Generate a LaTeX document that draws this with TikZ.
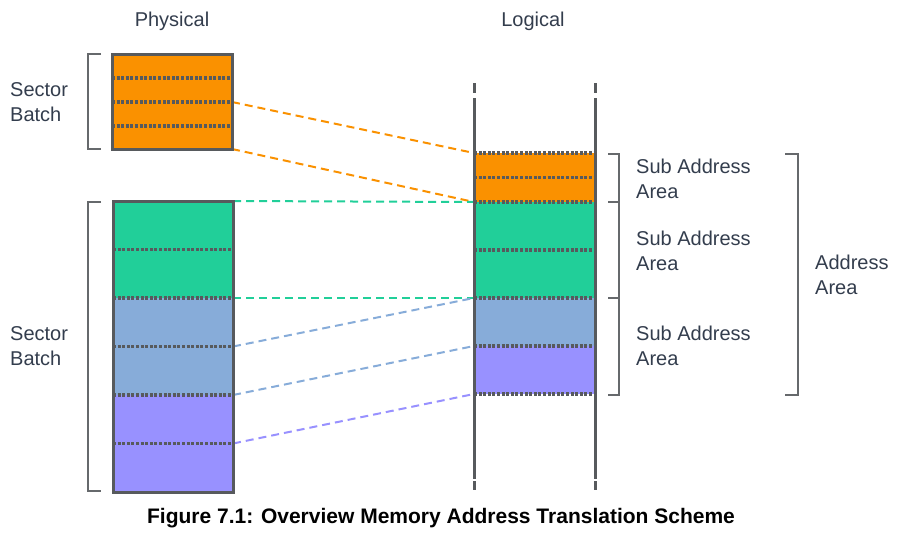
\documentclass[tikz,border=0pt]{standalone}
\usepackage{fontspec}
\setmainfont{Liberation Sans}
\definecolor{borderg}{HTML}{575A5D}
\definecolor{brk}{HTML}{66696C}
\definecolor{orng}{HTML}{FA9100}
\definecolor{grn}{HTML}{21CF99}
\definecolor{blu}{HTML}{87ACD9}
\definecolor{prp}{HTML}{9891FF}
\definecolor{txt}{HTML}{333D4D}
\begin{document}
\begin{tikzpicture}[x=1pt,y=-1pt,
  pseg/.style={inner sep=0pt,outer sep=0pt,anchor=north west,minimum width=120pt},
  lseg/.style={inner sep=0pt,outer sep=0pt,anchor=north west,minimum width=121pt},
  divider/.style={draw=borderg,line width=3.2pt,dash pattern=on 3pt off 1.6pt},
  boxborder/.style={draw=borderg,line width=3pt},
  vline/.style={draw=borderg,line width=3pt},
  bracket/.style={draw=brk,line width=2.2pt},
  conn/.style={line width=2pt,dash pattern=on 8pt off 5pt},
  lbl/.style={font=\fontsize{20}{25}\selectfont,text=txt,align=left,anchor=west,inner sep=0pt},
  head/.style={font=\fontsize{20}{25}\selectfont,text=txt,inner sep=0pt}
]
\useasboundingbox (0,0) rectangle (901,546);

% physical top batch
\node[pseg,fill=orng,minimum height=24pt] (p1) at (112,54) {};
\node[pseg,fill=orng,minimum height=24pt] (p2) at (112,78) {};
\node[pseg,fill=orng,minimum height=24pt] (p3) at (112,102) {};
\node[pseg,fill=orng,minimum height=23pt] (p4) at (112,126) {};

% physical bottom batch
\node[pseg,fill=grn,minimum height=48.5pt] (q1) at (113,201) {};
\node[pseg,fill=grn,minimum height=48.5pt] (q2) at (113,249.5) {};
\node[pseg,fill=blu,minimum height=48.5pt] (q3) at (113,298) {};
\node[pseg,fill=blu,minimum height=48.5pt] (q4) at (113,346.5) {};
\node[pseg,fill=prp,minimum height=48.5pt] (q5) at (113,395) {};
\node[pseg,fill=prp,minimum height=48.5pt] (q6) at (113,443.5) {};

% logical
\node[lseg,fill=orng,minimum height=24.5pt] (l1) at (474,153) {};
\node[lseg,fill=orng,minimum height=24.5pt] (l2) at (474,177.5) {};
\node[lseg,fill=grn,minimum height=48pt] (l3) at (474,202) {};
\node[lseg,fill=grn,minimum height=48pt] (l4) at (474,250) {};
\node[lseg,fill=blu,minimum height=48pt] (l5) at (474,298) {};
\node[lseg,fill=prp,minimum height=48pt] (l6) at (474,346) {};

% connectors
\draw[conn,orng] (p2.south east) -- (l1.north west);
\draw[conn,orng] (p4.south east) -- (l2.south west);
\draw[conn,grn] (q1.north east) -- (l3.north west);
\draw[conn,grn] (q2.south east) -- (l4.south west);
\draw[conn,blu] (q3.south east) -- (l5.north west);
\draw[conn,blu] (q4.south east) -- (l5.south west);
\draw[conn,prp] (q5.south east) -- (l6.south west);

% dividers
\foreach \n in {p1,p2,p3,q1,q2,q3,q4,q5}
  \draw[divider] (\n.south west) -- (\n.south east);
\draw[divider] (l1.north west) -- (l1.north east);
\foreach \n in {l1,l2,l3,l4,l5,l6}
  \draw[divider] (\n.south west) -- (\n.south east);

% borders
\draw[boxborder] (p1.north west) rectangle (p4.south east);
\draw[boxborder] (q1.north west) rectangle (q6.south east);

% logical rails
\coordinate (a1) at (474,83);  \coordinate (a2) at (474,93);
\coordinate (a3) at (474,98);  \coordinate (a4) at (474,479);
\coordinate (a5) at (474,481); \coordinate (a6) at (474,490);
\coordinate (b1) at (595,83);  \coordinate (b2) at (595,93);
\coordinate (b3) at (595,98);  \coordinate (b4) at (595,479);
\coordinate (b5) at (595,481); \coordinate (b6) at (595,490);
\draw[vline] (a1) -- (a2) (a3) -- (a4) (a5) -- (a6);
\draw[vline] (b1) -- (b2) (b3) -- (b4) (b5) -- (b6);

% brackets
\draw[bracket] (101,54) -- (88,54) -- (88,149) -- (101,149);
\draw[bracket] (101,202) -- (88,202) -- (88,491) -- (101,491);
\draw[bracket] (608,154) -- (619,154) -- (619,395) -- (608,395);
\draw[bracket] (608,202) -- (619,202);
\draw[bracket] (608,298) -- (619,298);
\draw[bracket] (785,154) -- (798,154) -- (798,395) -- (785,395);

% labels
\node[head] (phys) at (172,21) {Physical};
\node[head] (logi) at (533,21) {Logical};
\node[lbl] (sb1) at (10,102) {Sector\\Batch};
\node[lbl] (sb2) at (10,346) {Sector\\Batch};
\node[lbl] (sa1) at (636,179) {Sub Address\\Area};
\node[lbl] (sa2) at (636,251) {Sub Address\\Area};
\node[lbl] (sa3) at (636,346) {Sub Address\\Area};
\node[lbl] (aa) at (815,275) {Address\\Area};
\node[font=\fontsize{21}{25}\selectfont\bfseries,text=black,inner sep=0pt] (cap) at (441,518) {Figure 7.1: Overview Memory Address Translation Scheme};
\end{tikzpicture}
\end{document}
